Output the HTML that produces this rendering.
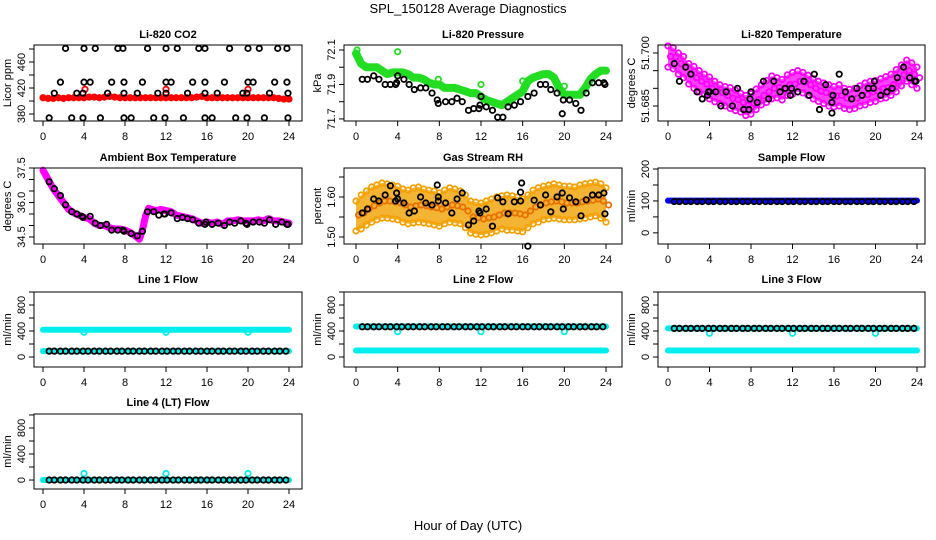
<!DOCTYPE html>
<html><head><meta charset="utf-8"><style>
html,body{margin:0;padding:0;background:#fff;}
svg{display:block;font-family:"Liberation Sans",Arial,sans-serif;}
</style></head><body>
<svg id="c" width="936" height="540" viewBox="0 0 936 540" xmlns="http://www.w3.org/2000/svg">
<text x="468" y="13" text-anchor="middle" font-size="13">SPL_150128  Average Diagnostics</text>
<text x="468" y="530" text-anchor="middle" font-size="13">Hour of Day (UTC)</text>
</svg>
<script>
// ---- data ----
const halfHours = [0,0.5,1,1.5,2,2.5,3,3.5,4,4.5,5,5.5,6,6.5,7,7.5,8,8.5,9,9.5,10,10.5,11,11.5,12,12.5,13,13.5,14,14.5,15,15.5,16,16.5,17,17.5,18,18.5,19,19.5,20,20.5,21,21.5,22,22.5,23,23.5,24];
const xTicks = [0,4,8,12,16,20,24];

const co2Red = [405,404,404,405,404,405,405,405,405,406,406,405,406,407,406,405,405,405,405,405,405,405,405,405,405,405,405,405,405,405,406,407,405,405,405,405,405,405,405,405,405,405,405,405,405,405,404,403,403];
const co2RedOutT = [4.1,12,20];
const co2RedOutV = [418,418,418];
const co2BlkT = [2.2,4,5.1,7.3,7.8,10.2,12,13.1,15.2,15.8,18.2,20,21.1,22.9,23.8, 1.7,4,4.6,6.7,7.9,9.7,12,12.5,14.6,15.8,17.7,20,20.5,22.6,23.8, 1.1,3.3,3.9,6.3,7.9,9.2,11.2,12,14.1,15.8,17,19.5,19.9,22.1,23.9, 0.6,2.8,3.9,5.6,7.9,8.6,10.8,11.9,13.7,15.8,16.5,18.8,19.9,21.6,23.9];
const co2BlkV = [481,481,481,481,481,481,481,481,481,481,481,481,481,481,481, 429,429,429,429,429,429,429,429,429,429,429,429,429,429,429, 412,412,412,412,412,412,412,412,412,412,412,412,412,412,412, 374,374,374,374,374,374,374,374,374,374,374,374,374,374,374];

const presGreen = [72.08,72.02,72.0,72.0,72.0,71.98,71.96,71.97,71.97,71.97,71.96,71.94,71.94,71.93,71.91,71.90,71.90,71.88,71.88,71.88,71.87,71.86,71.85,71.85,71.83,71.81,71.80,71.79,71.78,71.80,71.82,71.84,71.86,71.92,71.94,71.95,71.96,71.96,71.94,71.88,71.84,71.84,71.84,71.84,71.88,71.93,71.96,71.98,71.98];
const presGreenOutT = [0.1,4,7.9,16,12,20];
const presGreenOutV = [72.1,72.09,71.93,71.92,71.9,71.89];
const presBlkT = [0.6,1.1,1.7,2.2,2.8,3.3,3.8,3.9,4,4.6,5.1,5.6,6.2,6.7,7.3,7.8,7.9,8.6,9.2,9.7,10.2,10.8,11.3,11.8,11.9,12,12.5,13.1,13.6,14.1,14.6,15.2,15.8,16.5,17.1,17.7,18.2,18.7,19.3,19.8,19.9,20.5,21.1,21.6,22.1,22.7,23.3,23.8,23.9];
const presBlkV = [71.93,71.93,71.95,71.93,71.9,71.9,71.9,71.91,71.95,71.93,71.9,71.87,71.88,71.88,71.85,71.81,71.79,71.8,71.8,71.82,71.8,71.75,71.76,71.76,71.78,71.83,71.77,71.75,71.71,71.71,71.77,71.78,71.8,71.83,71.85,71.9,71.9,71.87,71.85,71.73,71.81,71.81,71.79,71.75,71.85,71.91,71.91,71.91,71.9];

const tempMid = [51.6990,51.6988,51.6970,51.6960,51.6942,51.6930,51.6920,51.6912,51.6900,51.6892,51.6888,51.6880,51.6872,51.6868,51.6860,51.6852,51.6858,51.6868,51.6880,51.6890,51.6900,51.6902,51.6898,51.6910,51.6912,51.6920,51.6918,51.6910,51.6900,51.6892,51.6888,51.6882,51.6878,51.6880,51.6872,51.6870,51.6872,51.6880,51.6882,51.6890,51.6892,51.6900,51.6902,51.6910,51.6920,51.6938,51.6950,51.6940,51.6930];
const tempHi = [51.7020,51.7015,51.7000,51.6990,51.6970,51.6962,51.6950,51.6940,51.6932,51.6920,51.6910,51.6905,51.6902,51.6895,51.6886,51.6880,51.6885,51.6898,51.6910,51.6922,51.6935,51.6930,51.6925,51.6938,51.6945,51.6950,51.6945,51.6937,51.6927,51.6920,51.6915,51.6910,51.6905,51.6910,51.6900,51.6897,51.6900,51.6907,51.6915,51.6920,51.6922,51.6927,51.6933,51.6940,51.6953,51.6966,51.6980,51.6972,51.6960];
const tempLo = [51.6960,51.6955,51.6940,51.6930,51.6912,51.6900,51.6890,51.6883,51.6870,51.6862,51.6857,51.6850,51.6843,51.6837,51.6833,51.6823,51.6827,51.6840,51.6853,51.6860,51.6870,51.6873,51.6867,51.6880,51.6883,51.6890,51.6887,51.6880,51.6870,51.6863,51.6857,51.6850,51.6847,51.6850,51.6843,51.6840,51.6843,51.6850,51.6853,51.6860,51.6863,51.6870,51.6873,51.6880,51.6890,51.6907,51.6920,51.6910,51.6900];
const tempBlkT = [0.6,1.1,1.7,2.2,2.8,3.3,3.8,3.9,4,4.6,5.1,5.6,6.2,6.7,7.3,7.8,7.9,8,8.6,9.2,9.7,10.2,10.8,11.3,11.8,11.9,12.5,13.1,13.6,14.1,14.6,15.2,15.8,15.8,15.9,16.5,17.1,17.7,18.2,18.7,19.3,19.8,19.9,20.5,21.1,21.6,22.1,22.7,23.3,23.8,23.9];
const tempBlkV = [51.697,51.692,51.696,51.694,51.689,51.687,51.688,51.689,51.689,51.689,51.685,51.689,51.685,51.690,51.684,51.684,51.687,51.689,51.686,51.692,51.687,51.692,51.689,51.690,51.688,51.690,51.689,51.692,51.688,51.694,51.684,51.691,51.686,51.683,51.688,51.694,51.689,51.687,51.690,51.688,51.690,51.690,51.692,51.688,51.689,51.690,51.693,51.696,51.693,51.692,51.692];

const ambT = [0,0.5,1,1.5,2,2.5,3,3.5,4,4.5,5,5.5,6,6.5,7,7.5,8,8.5,9,9.4,9.7,10,10.3,10.6,11,11.5,12,12.5,13,13.5,14,14.5,15,15.5,16,16.5,17,17.5,18,18.5,19,19.5,20,20.5,21,21.5,22,22.5,23,23.5,24];
const ambV = [37.4,37.0,36.6,36.3,36.0,35.7,35.55,35.45,35.35,35.3,35.1,35.0,35.0,34.9,34.85,34.85,34.8,34.7,34.55,34.4,34.8,35.4,35.75,35.7,35.65,35.7,35.65,35.6,35.45,35.4,35.35,35.3,35.2,35.1,35.15,35.1,35.15,35.05,35.2,35.2,35.25,35.2,35.2,35.2,35.25,35.2,35.3,35.2,35.2,35.15,35.1];
const ambBlkT = [0.6,1.1,1.7,2.2,2.8,3.3,3.8,3.9,4.6,5.1,5.6,6.2,6.7,7.3,7.8,7.9,8.6,9.2,9.7,10.2,10.8,11.3,11.8,11.9,12.5,13.1,13.6,14.1,14.6,15.2,15.8,15.9,16.5,17.1,17.7,18.2,18.7,19.3,19.8,19.9,20.5,21.1,21.6,22.1,22.7,23.3,23.8,23.9];
const ambBlkV = [36.9,36.6,36.3,35.9,35.6,35.5,35.4,35.35,35.4,35.1,35.0,35.05,34.8,34.8,34.8,34.75,34.65,34.55,34.75,35.6,35.6,35.45,35.5,35.5,35.55,35.3,35.35,35.3,35.25,35.1,35.05,35.15,35.05,35.1,35.0,35.15,35.1,35.2,35.1,35.05,35.15,35.15,35.1,35.25,35.05,35.15,35.05,35.05];

const rhMid = [1.555,1.560,1.570,1.578,1.585,1.590,1.590,1.588,1.585,1.580,1.575,1.578,1.580,1.578,1.575,1.573,1.570,1.575,1.580,1.578,1.575,1.565,1.550,1.548,1.545,1.548,1.550,1.555,1.560,1.560,1.560,1.558,1.555,1.565,1.575,1.580,1.585,1.588,1.590,1.588,1.585,1.585,1.585,1.588,1.590,1.592,1.595,1.590,1.580];
const rhHi = [1.590,1.605,1.615,1.625,1.630,1.635,1.633,1.630,1.627,1.620,1.617,1.623,1.625,1.620,1.617,1.615,1.610,1.617,1.623,1.620,1.615,1.605,1.590,1.587,1.585,1.590,1.595,1.600,1.603,1.605,1.603,1.600,1.595,1.605,1.617,1.623,1.627,1.630,1.633,1.630,1.627,1.627,1.625,1.630,1.633,1.635,1.637,1.633,1.623];
const rhLo = [1.515,1.520,1.530,1.537,1.543,1.547,1.547,1.545,1.543,1.537,1.533,1.535,1.537,1.535,1.533,1.530,1.527,1.533,1.537,1.535,1.533,1.523,1.510,1.507,1.505,1.507,1.510,1.515,1.520,1.517,1.517,1.515,1.513,1.523,1.533,1.537,1.543,1.545,1.547,1.545,1.543,1.543,1.543,1.545,1.547,1.550,1.553,1.547,1.537];
const rhBlkT = [0.6,1.1,1.7,2.2,2.8,3.3,3.8,3.9,4,4.6,5.1,5.6,6.2,6.7,7.3,7.8,7.9,7.9,8.6,9.2,9.7,10.2,10.8,11.3,11.8,11.9,12.5,13.1,13.6,14.1,14.6,15.2,15.8,15.8,15.9,16.5,17.1,17.7,18.2,18.7,19.3,19.8,19.9,20.5,21.1,21.6,22.1,22.7,23.3,23.8,23.9];
const rhBlkV = [1.56,1.57,1.595,1.59,1.605,1.628,1.59,1.61,1.595,1.585,1.56,1.565,1.6,1.585,1.58,1.63,1.6,1.59,1.585,1.56,1.595,1.61,1.53,1.54,1.565,1.56,1.57,1.527,1.598,1.588,1.558,1.588,1.612,1.59,1.635,1.477,1.592,1.58,1.605,1.563,1.6,1.61,1.57,1.598,1.588,1.553,1.593,1.605,1.605,1.61,1.558];

const flowBlkT = [0.6,1.1,1.7,2.2,2.8,3.3,3.9,4.4,5.0,5.5,6.1,6.6,7.2,7.7,8.3,8.8,9.4,9.9,10.5,11.0,11.6,12.1,12.7,13.2,13.8,14.3,14.9,15.4,16.0,16.5,17.1,17.6,18.2,18.7,19.3,19.8,20.4,20.9,21.5,22.0,22.6,23.1,23.7];
const dipT = [4,12,20];
const sampleBlue = 101, sampleBlk = 98;
const line1Cyan = [420,90], line1Blk = 90, line1Dip = 380;
const line2Cyan = [470,100], line2Blk = 465, line2Dip = 390;
const line3Cyan = [440,100], line3Blk = 440, line3Dip = 365;
const line4Cyan = [0], line4Blk = 0, line4Out = 100;

// ---- drawing ----
const NS = 'http://www.w3.org/2000/svg';
const svg = document.getElementById('c');
function mk(tag, attrs, parent) {
  const e = document.createElementNS(NS, tag);
  for (const k in attrs) e.setAttribute(k, attrs[k]);
  (parent || svg).appendChild(e);
  return e;
}
const cols = [{l:34,r:302,x0:43,x24:289},{l:344,r:622,x0:356,x24:606},{l:658,r:925,x0:668,x24:917}];
const rows = [{t:45,b:121,ty:38},{t:168,b:244,ty:161},{t:292,b:367,ty:283},{t:414,b:489,ty:406}];

function panel(name, title, ci, ri, ymin, ymax, yTicks, yLabels, ylab) {
  const c = cols[ci], r = rows[ri];
  const g = mk('g', {});
  
  
  const X = h => c.x0 + (c.x24 - c.x0) * h / 24;
  const Y = v => r.b - (v - ymin) / (ymax - ymin) * (r.b - r.t);
  const data = mk('g', {}, g);
  
  
  const box = mk('rect', {x:c.l, y:r.t, width:c.r-c.l, height:r.b-r.t, fill:'none', stroke:'#000', 'stroke-width':1}, g);
  
  
  const tt = mk('text', {x:(c.l+c.r)/2, y:r.ty, 'text-anchor':'middle', 'font-size':11, 'font-weight':'bold'}, g);
  tt.textContent = title;
  
  
  const xa = mk('g', {}, g);
  
  
  mk('line', {x1:X(0), x2:X(24), y1:r.b, y2:r.b, stroke:'#000'}, xa);
  xTicks.forEach(h => {
    mk('line', {x1:X(h), x2:X(h), y1:r.b, y2:r.b+5, stroke:'#000'}, xa);
    const t = mk('text', {x:X(h), y:r.b+19, 'text-anchor':'middle', 'font-size':11}, xa);
    t.textContent = h;
    
    
  });
  const ya = mk('g', {}, g);
  
  
  mk('line', {x1:c.l, x2:c.l, y1:Y(yTicks[0]), y2:Y(yTicks[yTicks.length-1]), stroke:'#000'}, ya);
  yTicks.forEach(v => mk('line', {x1:c.l-5, x2:c.l, y1:Y(v), y2:Y(v), stroke:'#000'}, ya));
  yLabels.forEach(v => {
    const yy = Y(+v);
    const t = mk('text', {x:c.l-9, y:yy, 'text-anchor':'middle', 'font-size':11, transform:`rotate(-90 ${c.l-9} ${yy})`}, ya);
    t.textContent = v;
    
    
  });
  const yl = mk('text', {x:c.l-23, y:(r.t+r.b)/2, 'text-anchor':'middle', 'font-size':11, transform:`rotate(-90 ${c.l-23} ${(r.t+r.b)/2})`}, g);
  yl.textContent = ylab;
  
  
  return {X, Y, data};
}
function pts(p, T, V, color, name, r) {
  T.forEach((t, i) => {
    const e = mk('circle', {cx:p.X(t), cy:p.Y(V[i]), r:r||2.7, fill:'none', stroke:color, 'stroke-width':1.8}, p.data);
    
    
  });
}
function band(p, T, V, color, w, name) {
  const e = mk('polyline', {points:T.map((t,i)=>p.X(t)+','+p.Y(V[i])).join(' '), fill:'none', stroke:color, 'stroke-width':w, 'stroke-linejoin':'round', 'stroke-linecap':'round'}, p.data);
  
  
}
function area(p, T, HI, LO, color, op, name) {
  const up = T.map((t,i)=>p.X(t)+','+p.Y(HI[i]));
  const dn = T.map((t,i)=>p.X(t)+','+p.Y(LO[i])).reverse();
  const e = mk('polygon', {points:up.concat(dn).join(' '), fill:color, 'fill-opacity':op, stroke:'none'}, p.data);
  
  
}
function hline(p, v, color, w, name) { band(p, [0, 24], [v, v], color, w, name); }
function constPts(p, T, v, color, name) { pts(p, T, T.map(() => v), color, name); }

// CO2
let p = panel('co2', 'Li-820 CO2', 0, 0, 369.2, 486.2, [380,400,420,440,460,480], ['380','420','460'], 'Licor ppm');
band(p, halfHours, co2Red, '#ff0000', 5, 'co2-band');
pts(p, halfHours, co2Red, '#ff0000', 'co2-point');
pts(p, co2RedOutT, co2RedOutV, '#ff0000', 'co2-outlier');
pts(p, co2BlkT, co2BlkV, '#000', 'co2-hourly-point');

// Pressure
p = panel('pressure', 'Li-820 Pressure', 1, 0, 71.688, 72.129, [71.7,71.8,71.9,72.0,72.1], ['71.7','71.9','72.1'], 'kPa');
band(p, halfHours, presGreen, '#22dd22', 8, 'pressure-band');
pts(p, presGreenOutT, presGreenOutV, '#22dd22', 'pressure-outlier');
pts(p, presBlkT, presBlkV, '#000', 'pressure-hourly-point');

// Temperature
p = panel('temperature', 'Li-820 Temperature', 2, 0, 51.68075, 51.70226, [51.685,51.690,51.695,51.700], ['51.685','51.700'], 'degrees C');
area(p, halfHours, tempHi, tempLo, '#ff00ff', 0.75, 'temperature-cloud');
pts(p, halfHours, tempHi, '#ff00ff', 'temperature-point');
pts(p, halfHours.map(h=>h+0.25), tempMid, '#ff00ff', 'temperature-point');
pts(p, halfHours, tempLo, '#ff00ff', 'temperature-point');
pts(p, tempBlkT, tempBlkV, '#000', 'temperature-hourly-point');

// Ambient
p = panel('ambient', 'Ambient Box Temperature', 0, 1, 34.196, 37.5, [34.5,35,35.5,36,36.5,37,37.5], ['34.5','36.0','37.5'], 'degrees C');
band(p, ambT, ambV, '#ff00ff', 7, 'ambient-band');
pts(p, ambBlkT, ambBlkV, '#000', 'ambient-hourly-point');

// RH
p = panel('rh', 'Gas Stream RH', 1, 1, 1.4825, 1.6725, [1.50,1.55,1.60,1.65], ['1.50','1.60'], 'percent');
area(p, halfHours, rhHi, rhLo, '#f0a000', 0.8, 'rh-cloud');
pts(p, halfHours, rhHi, '#f5a000', 'rh-point');
pts(p, halfHours.map(h=>h+0.25), rhMid, '#e87000', 'rh-point');
pts(p, halfHours, rhLo, '#f5a000', 'rh-point');
pts(p, rhBlkT, rhBlkV, '#000', 'rh-hourly-point');

// Sample flow
p = panel('sample-flow', 'Sample Flow', 2, 1, -34.9, 203.2, [0,50,100,150,200], ['0','100','200'], 'ml/min');
hline(p, sampleBlue, '#0000ff', 6, 'sample-flow-band');
constPts(p, flowBlkT, sampleBlk, '#000', 'sample-flow-point');

const flowTicks = [0,200,400,600,800,1000], flowLabels = ['0','400','800'];
p = panel('line1-flow', 'Line 1 Flow', 0, 2, -154, 1000, flowTicks, flowLabels, 'ml/min');
line1Cyan.forEach(v => hline(p, v, '#00eeee', 6, 'line1-flow-band'));
constPts(p, dipT, line1Dip, '#00eeee', 'line1-flow-dip');
constPts(p, flowBlkT, line1Blk, '#000', 'line1-flow-point');

p = panel('line2-flow', 'Line 2 Flow', 1, 2, -154, 1000, flowTicks, flowLabels, 'ml/min');
line2Cyan.forEach(v => hline(p, v, '#00eeee', 6, 'line2-flow-band'));
constPts(p, dipT, line2Dip, '#00eeee', 'line2-flow-dip');
constPts(p, flowBlkT, line2Blk, '#000', 'line2-flow-point');

p = panel('line3-flow', 'Line 3 Flow', 2, 2, -154, 1000, flowTicks, flowLabels, 'ml/min');
line3Cyan.forEach(v => hline(p, v, '#00eeee', 6, 'line3-flow-band'));
constPts(p, dipT, line3Dip, '#00eeee', 'line3-flow-dip');
constPts(p, flowBlkT, line3Blk, '#000', 'line3-flow-point');

p = panel('line4-flow', 'Line 4 (LT) Flow', 0, 3, -138, 1015, flowTicks, flowLabels, 'ml/min');
line4Cyan.forEach(v => hline(p, v, '#00eeee', 6, 'line4-flow-band'));
constPts(p, dipT, line4Out, '#00eeee', 'line4-flow-outlier');
constPts(p, flowBlkT, line4Blk, '#000', 'line4-flow-point');
</script>
</body></html>
